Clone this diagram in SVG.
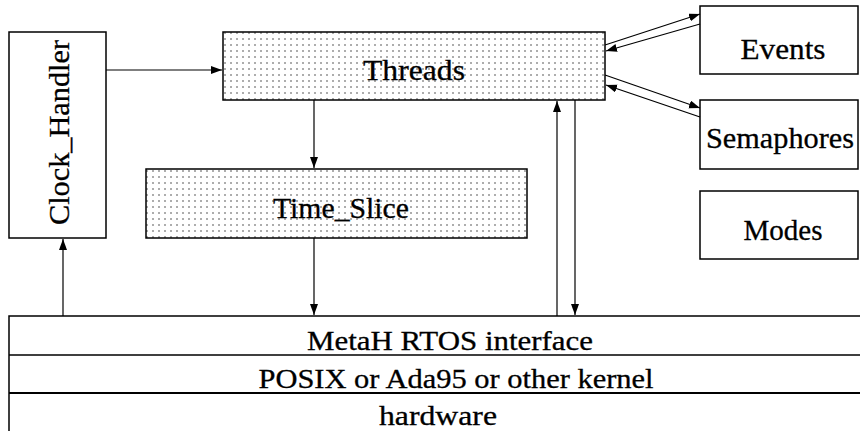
<svg xmlns="http://www.w3.org/2000/svg" width="860" height="431" viewBox="0 0 860 431">
<style>
.box{fill:#fff;stroke:#000;stroke-width:1.5}
.dot{fill:url(#stip);stroke:#000;stroke-width:1.5}
.lbl{font-family:"Liberation Serif","Times New Roman",serif;font-size:30px;fill:#000;stroke:#000;stroke-width:0.3;text-anchor:middle}
.sm{font-size:27px}
.con{stroke:#000;stroke-width:1.2;fill:none}
.lay{stroke:#000;stroke-width:1.5;fill:none}
</style>
<defs>
<pattern id="stip" patternUnits="userSpaceOnUse" width="6" height="6">
<rect width="6" height="6" fill="#fff"/>
<circle cx="3" cy="3" r="0.8" fill="#444"/>
</pattern>
<marker id="ah" markerUnits="userSpaceOnUse" markerWidth="12" markerHeight="9" refX="11" refY="4" orient="auto">
<path d="M0,0 L11,4 L0,8 z" fill="#000"/>
</marker>
</defs>
<rect width="860" height="431" fill="#fff"/>

<g id="layers">
<path class="lay" d="M9,431 V316 H861 M9,355 H861"/>
<path d="M9,393 H861" stroke="#000" stroke-width="2.2"/>
<text class="lbl sm" x="450" y="350" textLength="286" lengthAdjust="spacingAndGlyphs">MetaH RTOS interface</text>
<text class="lbl sm" x="456" y="388" textLength="395" lengthAdjust="spacingAndGlyphs">POSIX or Ada95 or other kernel</text>
<text class="lbl sm" x="438" y="425" textLength="118" lengthAdjust="spacingAndGlyphs">hardware</text>
</g>

<g id="clock_handler">
<rect class="box" x="9" y="32" width="97" height="206"/>
<text class="lbl" transform="translate(69,132.5) rotate(-90)" textLength="185" lengthAdjust="spacingAndGlyphs">Clock_Handler</text>
</g>

<g id="threads">
<rect class="dot" x="223" y="32" width="382" height="68"/>
<text class="lbl" x="414" y="80" textLength="102" lengthAdjust="spacingAndGlyphs">Threads</text>
</g>

<g id="time_slice">
<rect class="dot" x="146" y="169" width="381" height="69"/>
<text class="lbl" x="341" y="218" textLength="136" lengthAdjust="spacingAndGlyphs">Time_Slice</text>
</g>

<g id="events">
<rect class="box" x="700" y="6" width="158" height="68"/>
<text class="lbl" x="783" y="59" textLength="85" lengthAdjust="spacingAndGlyphs">Events</text>
</g>

<g id="semaphores">
<rect class="box" x="700" y="100" width="158" height="69"/>
<text class="lbl" x="780" y="148" textLength="148" lengthAdjust="spacingAndGlyphs">Semaphores</text>
</g>

<g id="modes">
<rect class="box" x="700" y="191" width="158" height="68"/>
<text class="lbl" x="783" y="240" textLength="79" lengthAdjust="spacingAndGlyphs">Modes</text>
</g>

<g id="connectors">
<line class="con" x1="106" y1="70" x2="222" y2="70" marker-end="url(#ah)"/>
<line class="con" x1="314" y1="100" x2="314" y2="168" marker-end="url(#ah)"/>
<line class="con" x1="314" y1="238" x2="314" y2="315" marker-end="url(#ah)"/>
<line class="con" x1="63" y1="316" x2="63" y2="239" marker-end="url(#ah)"/>
<line class="con" x1="557" y1="316" x2="557" y2="101" marker-end="url(#ah)"/>
<line class="con" x1="575" y1="100" x2="575" y2="315" marker-end="url(#ah)"/>
<line class="con" x1="605" y1="45" x2="700" y2="14" marker-end="url(#ah)"/>
<line class="con" x1="700" y1="24" x2="606" y2="51" marker-end="url(#ah)"/>
<line class="con" x1="605" y1="75" x2="700" y2="108" marker-end="url(#ah)"/>
<line class="con" x1="700" y1="117" x2="606" y2="85" marker-end="url(#ah)"/>
</g>
</svg>
